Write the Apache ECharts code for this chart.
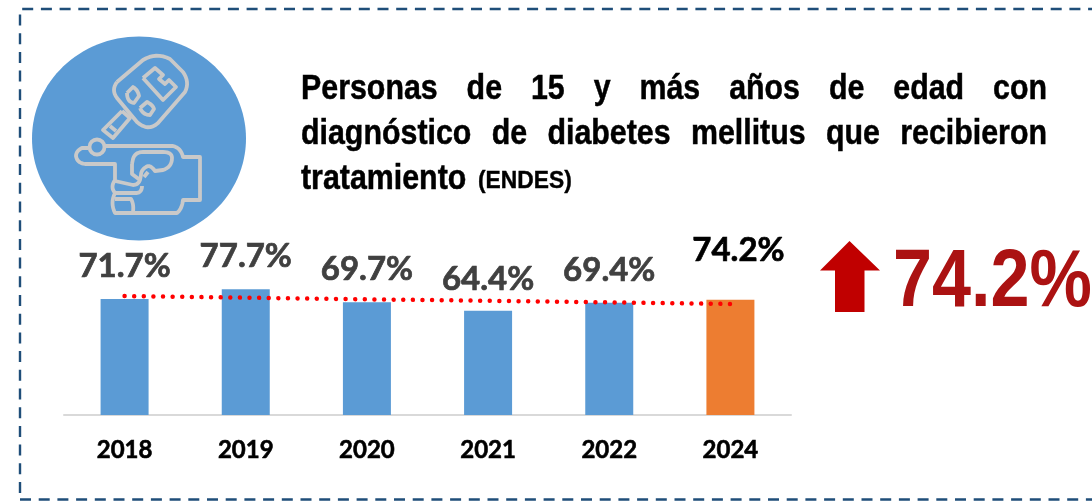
<!DOCTYPE html>
<html><head><meta charset="utf-8">
<style>html,body{margin:0;padding:0;background:#fff}#c{width:1092px;height:501px}</style>
<script src="https://cdn.jsdelivr.net/npm/echarts@6/dist/echarts.min.js"></script>
</head><body><div id="c"></div>
<script>
const categories = ['2018','2019','2020','2021','2022','2024'];
const barHeights = [71.7,77.7,69.7,64.4,69.4,71.2];
const valueLabels = ['71.7%','77.7%','69.7%','64.4%','69.4%','74.2%'];
const trendValues = [73.5,72.5,71.5,70.6,69.6,68.6];
const labelDistances = [16,16,16,15,16,33];
const titleLine1 = 'Personas de 15 y más años de edad con';
const titleLine2 = 'diagnóstico de diabetes mellitus que recibieron';
const titleLine3 = 'tratamiento';
const titleSource = '(ENDES)';
const headline = '74.2%';

const BLUE='#5b9bd5', ORANGE='#ed7d31', TITLE_FONT='bold 34.5px "Liberation Sans"', TITLE_SX=0.88;
const ctx=document.createElement('canvas').getContext('2d');
function titleWord(text,x,y){
  return {type:'text',x,y,scaleX:TITLE_SX,style:{text,font:TITLE_FONT,fill:'#000',stroke:'#000',lineWidth:0.5,textVerticalAlign:'middle'}};
}
function justified(line,left,right,y){
  ctx.font=TITLE_FONT;
  const words=line.split(' ');
  const widths=words.map(w=>ctx.measureText(w).width*TITLE_SX);
  const gap=(right-left-widths.reduce((a,b)=>a+b,0))/(words.length-1);
  let x=left;
  return words.map((w,i)=>{const el=titleWord(w,x,y);x+=widths[i]+gap;return el;});
}
// Small path outline (M, L, Q, Z) flattened to polylines for the icon
function outline(d){
  const tok=d.match(/[MLQZ]|-?[\d.]+/g);const out=[];let pts=[],i=0,cur=null;
  while(i<tok.length){
    const c=tok[i++];
    if(c==='M'){if(pts.length)out.push(pts);cur=[+tok[i++],+tok[i++]];pts=[cur];}
    else if(c==='L'){cur=[+tok[i++],+tok[i++]];pts.push(cur);}
    else if(c==='Q'){const q=[+tok[i++],+tok[i++]],e=[+tok[i++],+tok[i++]];
      for(let t=1;t<=8;t++){const u=t/8,v=1-u;pts.push([v*v*cur[0]+2*v*u*q[0]+u*u*e[0],v*v*cur[1]+2*v*u*q[1]+u*u*e[1]]);}
      cur=e;}
    else if(c==='Z'){pts.push(pts[0]);}
  }
  if(pts.length)out.push(pts);
  return out;
}
const iconStroke={fill:'none',stroke:'#c9c9c9',lineWidth:3.8,lineJoin:'round'};
const iconPaths=[
 'M117 82 L143 60 Q156 52 170 59 L183 72 Q190 82 185 92 L158 123 Q148 132 137 122 L117 98 Q111 90 117 82 Z',
 'M143 78 L155 68 L163 75 L159 79 L165 84 L169 80 L176 87 L163 100 Z',
 'M127 93 L133 87 Q138 90 139 96 L134 103 Q127 102 127 93 Z',
 'M140 108 L147 102 Q153 105 154 109 L150 115 Q143 115 140 108 Z',
 'M122 111 L130 118 L113 138 L103 130 Z',
 'M110 126 L116 131',
 'M88 148 L82 148 Q76 151 76 156 Q77 163 85 164 L115 164 L115 180 Q110 187 115 193 Q110 203 115 213 L177 213 Q182 209 183 200 L200 200 L200 157 L183 157 Q181 148 173 146 L104 146',
 'M132 164 L133 159 Q135 152 143 152 L163 152 Q172 152 172 158 Q172 167 163 170 L155 171 Q150 164 146 167 Q141 170 141 175 L140 180 Q138 185 133 185 L115 181',
 'M132 164 L132 174 L140 180',
 'M115 193 L137 193 Q142 192 142 186',
 'M115 199 L131 199 Q134 204 133 212',
 'M144 177 L148 172'
];
const graphics=[
 {type:'polyline',shape:{points:[[20,493],[20,9],[1092,9]]},style:{fill:'none',stroke:'#1f4e79',lineWidth:2.4,lineDash:[11,7.7]}},
 {type:'line',shape:{x1:20,y1:499.5,x2:1092,y2:499.5},style:{stroke:'#1f4e79',lineWidth:2.4,lineDash:[11,7.7]}},
 {type:'ellipse',shape:{cx:139,cy:138.5,rx:107,ry:102},style:{fill:BLUE}},
 ...iconPaths.flatMap(d=>outline(d).map(points=>({type:'polyline',shape:{points},style:iconStroke}))),
 {type:'circle',shape:{cx:97,cy:147,r:7.5},style:{fill:BLUE,stroke:'#c9c9c9',lineWidth:3.8}},
 ...justified(titleLine1,301,1047,89.5),
 ...justified(titleLine2,301,1047,134.5),
 titleWord(titleLine3,301,179.5),
 {type:'text',x:478,y:182,scaleX:0.97,style:{text:titleSource,font:'bold 23.5px "Liberation Sans"',fill:'#000',stroke:'#000',lineWidth:0.4,textVerticalAlign:'middle'}},
 {type:'polygon',shape:{points:[[849.5,241],[880,270.5],[864.5,270.5],[864.5,312],[835,312],[835,270.5],[820,270.5]]},style:{fill:'#c00000'}},
 {type:'text',x:893,y:283.5,scaleX:0.855,style:{text:headline,font:'bold 82px "Liberation Sans"',fill:'#ab1212',textVerticalAlign:'middle'}}
];
const chart=echarts.init(document.getElementById('c'),null,{renderer:'canvas'});
chart.setOption({
 animation:false,
 grid:{left:64,width:727,top:253.2,height:161.8},
 xAxis:{type:'category',data:categories,
  axisLine:{lineStyle:{color:'#d9d9d9',width:2}},axisTick:{show:false},
  axisLabel:{margin:23,color:'#000',fontFamily:'Lato',fontWeight:'bold',fontSize:24,textBorderColor:'#000',textBorderWidth:0.6}},
 yAxis:{type:'value',min:0,max:100,show:false},
 graphic:graphics,
 series:[
  {type:'bar',barWidth:48,
   data:barHeights.map((v,i)=>{const last=i===categories.length-1;const col=last?'#000':'#404040';return {value:v,
     itemStyle:{color:last?ORANGE:BLUE},
     label:{show:true,position:'top',distance:labelDistances[i],formatter:valueLabels[i],
       offset:last?[8,0]:[0,0],color:col,textBorderColor:col,textBorderWidth:0.7,
       fontFamily:'Lato',fontWeight:'bold',fontSize:33}};})},
  {type:'line',data:trendValues,showSymbol:false,silent:true,z:5,
   lineStyle:{color:'#ff0000',width:4.5,type:[0.01,9.6],cap:'round'}}
 ]
});
</script></body></html>
